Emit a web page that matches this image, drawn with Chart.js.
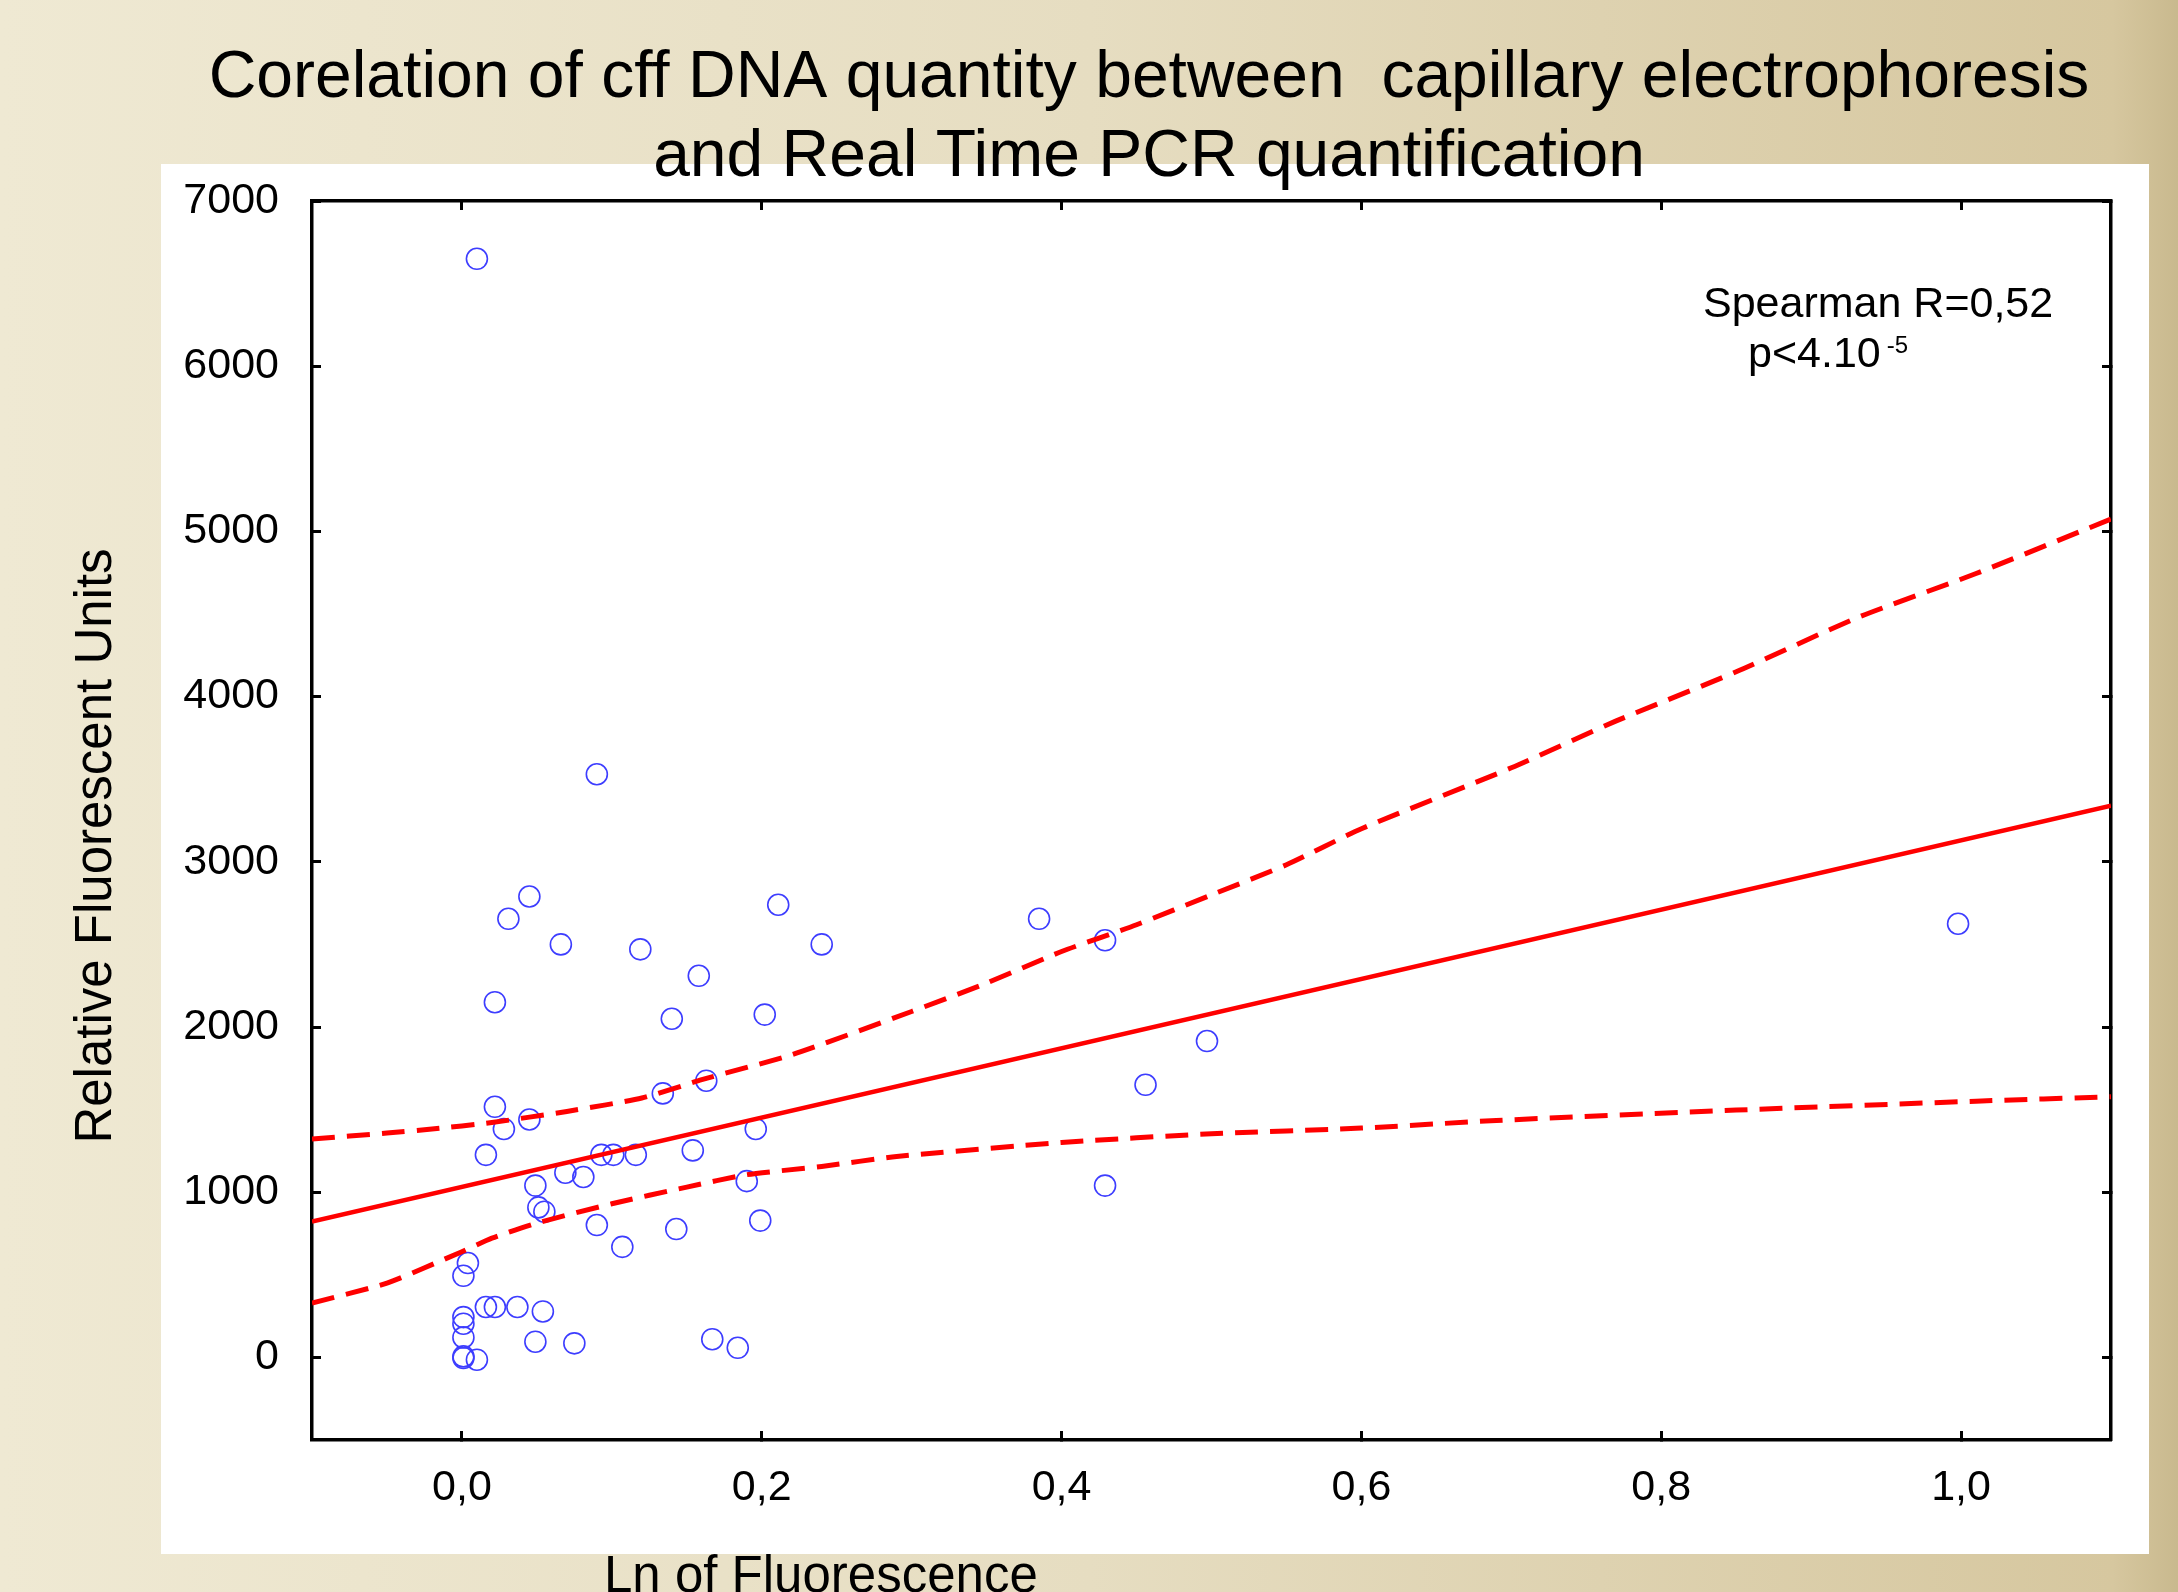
<!DOCTYPE html>
<html>
<head>
<meta charset="utf-8">
<script src="https://cdn.jsdelivr.net/npm/chart.js@4.4.1/dist/chart.umd.min.js"></script>
<style>
  html, body { margin: 0; padding: 0; overflow: hidden; }
  #wrap { width: 2178px; height: 1592px; position: relative; }
</style>
</head>
<body>
<div id="wrap"><canvas id="chartCanvas"></canvas></div>
<script>
// texts
var titleLines = ['Corelation of cff DNA quantity between  capillary electrophoresis', 'and Real Time PCR quantification'];
var xTitle = 'Ln of Fluorescence';
var yTitle = 'Relative Fluorescent Units';
var statLines = ['Spearman R=0,52', 'p<4.10'];
var statExp = '-5';

// ticks
var xTickValues = [0, 0.2, 0.4, 0.6, 0.8, 1.0];
var yTickValues = [0, 1000, 2000, 3000, 4000, 5000, 6000, 7000];

// scatter points
var lnFluorescence = [0.010, 0.090, 0.045, 0.031, 0.066, 0.119, 0.211, 0.240, 0.158, 0.022,
                      0.140, 0.202, 0.385, 0.429, 0.998, 0.497, 0.456, 0.429, 0.163, 0.134,
                      0.022, 0.045, 0.028, 0.196, 0.016, 0.093, 0.101, 0.116, 0.154, 0.069,
                      0.081, 0.049, 0.190, 0.051, 0.055, 0.090, 0.143, 0.199, 0.107, 0.004,
                      0.001, 0.016, 0.022, 0.037, 0.054, 0.001, 0.001, 0.001, 0.049, 0.075,
                      0.167, 0.184, 0.001, 0.001, 0.010];
var rfu = [6650, 3530, 2790, 2655, 2500, 2470, 2740, 2500, 2310, 2150,
           2050, 2075, 2655, 2525, 2625, 1915, 1650, 1040, 1675, 1598,
           1517, 1440, 1383, 1383, 1226, 1226, 1226, 1226, 1253, 1118,
           1092, 1040, 1067, 908, 882, 801, 777, 828, 669, 571,
           494, 305, 305, 305, 278, 244, 204, 121, 95, 85,
           110, 58, 6, -4, -14];

// regression line and 95% band
var fitX = [-0.1, 1.1];
var fitY = [823, 3340];
var upperX = [-0.1, -0.05, -0.02, 0.02, 0.07, 0.12, 0.16, 0.22, 0.30, 0.35, 0.40, 0.45, 0.50, 0.55, 0.60, 0.70, 0.77, 0.85, 0.93, 1.01, 1.1];
var upperY = [1322, 1358, 1382, 1422, 1489, 1570, 1681, 1832, 2094, 2266, 2457, 2619, 2800, 2982, 3200, 3569, 3853, 4150, 4475, 4745, 5075];
var lowerX = [-0.1, -0.05, 0.0, 0.02, 0.05, 0.10, 0.15, 0.19, 0.24, 0.29, 0.40, 0.50, 0.60, 0.69, 0.85, 1.01, 1.1];
var lowerY = [329, 450, 640, 722, 813, 930, 1031, 1106, 1156, 1216, 1301, 1354, 1388, 1434, 1497, 1551, 1578];

function pairs(xs, ys) {
	var out = [];
	for (var i in xs) {
		out.push({x: xs[i], y: ys[i]});
	}
	return out;
}

var family = "'Liberation Sans', Arial, sans-serif";

var pageBackground = {
	id: 'pageBackground',
	beforeDraw: function(chart) {
		var ctx = chart.ctx;
		var w = chart.width, h = chart.height;
		ctx.save();
		var g = ctx.createLinearGradient(0, 0, w, 0);
		g.addColorStop(0, '#efe9d3');
		g.addColorStop(0.5, '#e6ddc1');
		g.addColorStop(0.97, '#d6c79f');
		g.addColorStop(1, '#c9b98e');
		ctx.fillStyle = g;
		ctx.fillRect(0, 0, w, h);
		ctx.fillStyle = '#ffffff';
		ctx.fillRect(161, 164, 1988, 1390);
		ctx.restore();
	}
};

var pageText = {
	id: 'pageText',
	afterDraw: function(chart) {
		var ctx = chart.ctx;
		ctx.save();
		ctx.fillStyle = '#000';
		ctx.textBaseline = 'alphabetic';

		ctx.font = '66px ' + family;
		ctx.textAlign = 'center';
		ctx.fillText(titleLines[0], 1149, 97);
		ctx.fillText(titleLines[1], 1149, 176);

		ctx.font = '51px ' + family;
		ctx.textAlign = 'left';
		ctx.fillText(xTitle, 604, 1592);

		ctx.save();
		ctx.translate(111, 846);
		ctx.rotate(-Math.PI / 2);
		ctx.textAlign = 'center';
		ctx.fillText(yTitle, 0, 0);
		ctx.restore();

		ctx.font = '43px ' + family;
		ctx.textAlign = 'left';
		ctx.fillText(statLines[0], 1703, 317);
		ctx.fillText(statLines[1], 1748, 367);
		var wExp = ctx.measureText(statLines[1]).width;
		ctx.font = '24px ' + family;
		ctx.fillText(statExp, 1748 + wExp + 6, 353);
		ctx.restore();
	}
};

var tickFont = {size: 43, family: family};

var ctx = document.getElementById('chartCanvas');
var scatterChart = new Chart(ctx, {
	type: 'scatter',
	data: {
		datasets: [
			{
				label: 'fit',
				data: pairs(fitX, fitY),
				showLine: true,
				borderColor: '#ff0000',
				borderWidth: 4.5,
				pointRadius: 0
			},
			{
				label: 'upper',
				data: pairs(upperX, upperY),
				showLine: true,
				borderColor: '#ff0000',
				borderWidth: 5,
				borderDash: [23, 12],
				tension: 0.2,
				pointRadius: 0
			},
			{
				label: 'lower',
				data: pairs(lowerX, lowerY),
				showLine: true,
				borderColor: '#ff0000',
				borderWidth: 5,
				borderDash: [23, 12],
				tension: 0.2,
				pointRadius: 0
			},
			{
				label: 'samples',
				data: pairs(lnFluorescence, rfu),
				showLine: false,
				pointStyle: 'circle',
				pointRadius: 10.5,
				pointBorderWidth: 1.6,
				borderColor: '#3d3dff',
				backgroundColor: 'rgba(0,0,0,0)'
			}
		]
	},
	options: {
		responsive: true,
		maintainAspectRatio: false,
		devicePixelRatio: 1,
		animation: false,
		layout: {
			padding: {left: 0, top: 201, right: 67, bottom: 0}
		},
		plugins: {
			legend: {display: false},
			tooltip: {enabled: false},
			title: {display: false}
		},
		scales: {
			x: {
				type: 'linear',
				position: 'bottom',
				min: -0.1,
				max: 1.1,
				afterBuildTicks: function(s) { s.ticks = xTickValues.map(function(v) { return {value: v}; }); },
				afterFit: function(s) { s.height = 152; },
				ticks: {
					font: tickFont,
					color: '#000',
					padding: 31,
					maxRotation: 0,
					callback: function(v) { return v.toFixed(1).replace('.', ','); }
				},
				grid: {drawOnChartArea: false, tickLength: -9, tickWidth: 3, tickColor: '#000'},
				border: {color: '#000', width: 3.5}
			},
			x2: {
				type: 'linear',
				position: 'top',
				min: -0.1,
				max: 1.1,
				afterBuildTicks: function(s) { s.ticks = xTickValues.map(function(v) { return {value: v}; }); },
				afterFit: function(s) { s.height = 0; },
				ticks: {display: false},
				grid: {drawOnChartArea: false, tickLength: -9, tickWidth: 3, tickColor: '#000'},
				border: {color: '#000', width: 3.5}
			},
			y: {
				type: 'linear',
				position: 'left',
				min: -500,
				max: 7000,
				afterBuildTicks: function(s) { s.ticks = yTickValues.map(function(v) { return {value: v}; }); },
				afterFit: function(s) { s.width = 312; },
				ticks: {
					font: tickFont,
					color: '#000',
					padding: 42,
					callback: function(v) { return String(v); }
				},
				grid: {drawOnChartArea: false, tickLength: -9, tickWidth: 3, tickColor: '#000'},
				border: {color: '#000', width: 3.5}
			},
			y2: {
				type: 'linear',
				position: 'right',
				min: -500,
				max: 7000,
				afterBuildTicks: function(s) { s.ticks = yTickValues.map(function(v) { return {value: v}; }); },
				afterFit: function(s) { s.width = 0; },
				ticks: {display: false},
				grid: {drawOnChartArea: false, tickLength: -9, tickWidth: 3, tickColor: '#000'},
				border: {color: '#000', width: 3.5}
			}
		}
	},
	plugins: [pageBackground, pageText]
});
</script>
</body>
</html>
